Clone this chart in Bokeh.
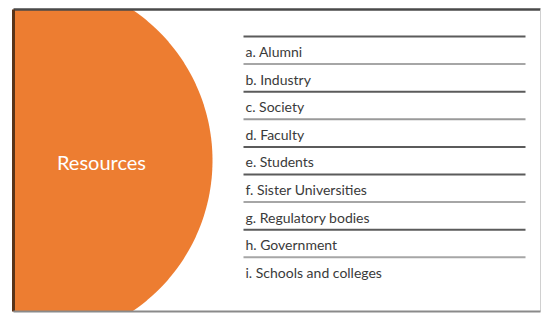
import numpy as np
from bokeh.plotting import figure
from bokeh.models import Range1d, ColumnDataSource
from bokeh.core.properties import value
from bokeh.embed import file_html
from bokeh.resources import INLINE

# ---- content ----
title = "Resources"
items = ["a. Alumni", "b. Industry", "c. Society", "d. Faculty", "e. Students",
         "f. Sister Universities", "g. Regulatory bodies", "h. Government",
         "i. Schools and colleges"]
line_shades = ["#5b5b5b", "#a6a6a6", "#5b5b5b", "#9a9a9a", "#5b5b5b",
               "#5b5b5b", "#a6a6a6", "#5b5b5b", "#a6a6a6"]

# ---- layout (page pixel coordinates) ----
W, H = 548, 314
p = figure(width=W, height=H, output_backend="svg", toolbar_location=None,
           x_range=Range1d(0, W), y_range=Range1d(H, 0),
           min_border=0)
p.axis.visible = False
p.grid.visible = False
p.outline_line_color = None
p.background_fill_color = "white"
p.border_fill_color = "white"

box_l, box_t, box_r, box_b = 13, 9, 540, 311

# orange disc clipped to slide box
cx, cy, r = 30, 160, 182
ys = np.linspace(box_t, box_b, 200)
xs = cx + np.sqrt(np.clip(r**2 - (ys - cy)**2, 0, None))
px = np.concatenate([[box_l], xs, [box_l]])
py = np.concatenate([[box_t], ys, [box_b]])
p.patch(px, py, fill_color="#ED7D31", line_color=None)

# slide frame
p.line([box_l, box_r], [box_t, box_t], line_color="#4a4a4a", line_width=2.5)
p.line([box_l, box_l], [box_t, box_b], line_color="#5a3418", line_width=3)
p.line([box_r, box_r], [box_t, box_b], line_color="#d0d0d0", line_width=1)
p.line([box_l, box_r], [box_b, box_b], line_color="#8a8a8a", line_width=2)

p.text(x=[101], y=[161], text=[title], text_color="white",
       text_font=value("Lato"), text_font_size="20px",
       text_align="center", text_baseline="middle")

# list
n = len(items)
top, step = 36, 27.6
line_y = [top + i * step for i in range(n)]
for yv, c in zip(line_y, line_shades):
    p.line([243, 525], [yv, yv], line_color=c, line_width=2)

src = ColumnDataSource(dict(x=[245] * n, y=[yv + 15 for yv in line_y], t=items))
p.text(x="x", y="y", text="t", source=src, text_color="#3a3a3a",
       text_font=value("Lato"), text_font_size="14px",
       text_align="left", text_baseline="middle")

open("out.html", "w").write(file_html(p, INLINE))
